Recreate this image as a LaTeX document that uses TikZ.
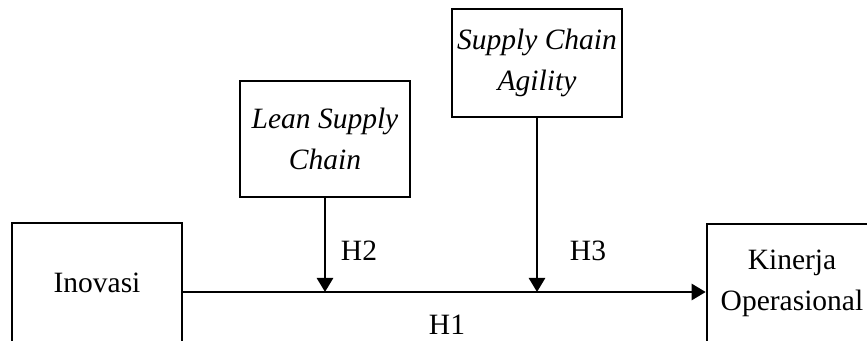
\documentclass[tikz,border=0pt]{standalone}
\usepackage{fontspec}
\setmainfont{Liberation Serif}
\usetikzlibrary{arrows.meta}
\begin{document}
\begin{tikzpicture}[x=1pt,y=1pt,
  box/.style={draw, line width=2.6pt, minimum width=170pt, inner sep=0pt, align=center,
              font=\fontsize{29.5}{41}\selectfont},
  link/.style={line width=2.6pt, -{Triangle[width=16pt,length=14pt]}},
  lab/.style={font=\fontsize{29.5}{34}\selectfont}]
\useasboundingbox (0,0) rectangle (867,340);
\clip (0,0) rectangle (867,340);
% boxes (y measured upward: y = 340 - image y)
\node[box, minimum height=119pt] (ino) at (97,57.5) {Inovasi};
\node[box, minimum height=118pt] (kin) at (792,57) {Kinerja\\Operasional};
\node[box, minimum height=116pt] (lean) at (325,201) {\itshape Lean Supply\\\itshape Chain};
\node[box, minimum height=108pt] (sca) at (537,277) {\itshape Supply Chain\\\itshape Agility};
\coordinate (h) at (0,48);
% connectors
\draw[link] (ino.east |- h) -- (kin.west |- h);
\draw[link] (lean.south) -- (lean.south |- h);
\draw[link] (sca.south) -- (sca.south |- h);
% labels
\node[lab] (h2) at (359,89) {H2};
\node[lab] (h3) at (588,89) {H3};
\node[lab] (h1) at (447,15) {H1};
\end{tikzpicture}
\end{document}
